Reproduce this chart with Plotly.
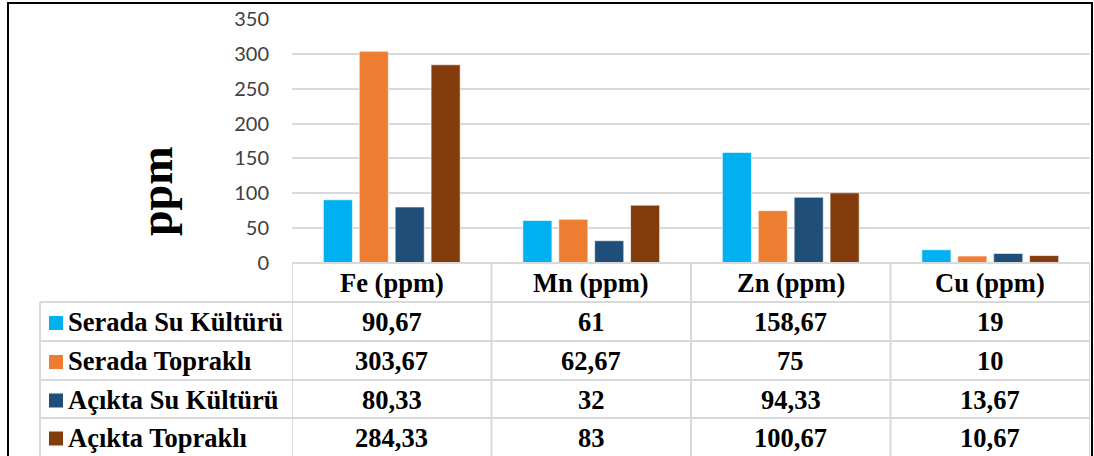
import plotly.graph_objects as go

# Data
categories = ["Fe (ppm)", "Mn (ppm)", "Zn (ppm)", "Cu (ppm)"]
series_names = ["Serada Su Kültürü", "Serada Topraklı", "Açıkta Su Kültürü", "Açıkta Topraklı"]
serada_su = [90.67, 61, 158.67, 19]
serada_toprak = [303.67, 62.67, 75, 10]
acikta_su = [80.33, 32, 94.33, 13.67]
acikta_toprak = [284.33, 83, 100.67, 10.67]
y_ticks = [0, 50, 100, 150, 200, 250, 300, 350]

series_values = [serada_su, serada_toprak, acikta_su, acikta_toprak]
colors = ["#00B0F0", "#ED7D31", "#1F4E79", "#843C0C"]

W, H = 1094, 456
PL, PR, PT, PB = 292, 1090, 19, 263  # plot area in pixels
SERIF = "Liberation Serif, Times New Roman, serif"
GRID = "#D9D9D9"
CELL_FONT = dict(family=SERIF, size=26.5, color="black")


def px(x):
    return (x - PL) / (PR - PL)


def py(y):
    return (PB - y) / (PB - PT)


def fmt(v):
    return ("%g" % v).replace(".", ",")


fig = go.Figure()
for name, vals, c in zip(series_names, series_values, colors):
    fig.add_trace(go.Bar(
        x=categories, y=vals, name=name,
        marker=dict(color=c, line=dict(color="rgba(255,255,255,0.6)", width=1)),
        showlegend=False,
    ))

shapes = []
annotations = []

# outer frame
shapes.append(dict(type="rect", xref="paper", yref="paper",
                   x0=px(8), x1=px(1092), y0=py(3), y1=py(475),
                   line=dict(color="black", width=2)))

# table row lines
row_edges = [302, 341, 380, 418]
shapes.append(dict(type="line", xref="paper", yref="paper",
                   x0=px(PL), x1=px(PR), y0=py(PB), y1=py(PB),
                   line=dict(color=GRID, width=2)))
for ry in row_edges:
    shapes.append(dict(type="line", xref="paper", yref="paper",
                       x0=px(40), x1=px(PR), y0=py(ry), y1=py(ry),
                       line=dict(color=GRID, width=2)))
# table column lines
shapes.append(dict(type="line", xref="paper", yref="paper",
                   x0=px(40), x1=px(40), y0=py(302), y1=py(470),
                   line=dict(color=GRID, width=2)))
for cx in [-0.5, 0.5, 1.5, 2.5, 3.5]:
    shapes.append(dict(type="line", xref="x", yref="paper",
                       x0=cx, x1=cx, y0=py(PB), y1=py(470),
                       line=dict(color=GRID, width=2)))

# header row: category names
for cat in categories:
    annotations.append(dict(x=cat, y=py(283), xref="x", yref="paper",
                            text=f"<b>{cat}</b>", showarrow=False,
                            xanchor="center", yanchor="middle", font=CELL_FONT))

# body rows
row_centers = [322, 361, 399.5, 437.5]
for name, vals, c, rc in zip(series_names, series_values, colors, row_centers):
    shapes.append(dict(type="rect", xref="paper", yref="paper",
                       x0=px(49), x1=px(63), y0=py(rc - 6), y1=py(rc + 8),
                       line=dict(width=0), fillcolor=c))
    annotations.append(dict(x=px(66), y=py(rc), xref="paper", yref="paper",
                            text=f"<b>{name}</b>", showarrow=False,
                            xanchor="left", yanchor="middle", font=CELL_FONT))
    for cat, v in zip(categories, vals):
        annotations.append(dict(x=cat, y=py(rc), xref="x", yref="paper",
                                text=f"<b>{fmt(v)}</b>", showarrow=False,
                                xanchor="center", yanchor="middle", font=CELL_FONT))

# y axis title
annotations.append(dict(x=px(156), y=py(192), xref="paper", yref="paper",
                        text="<b>ppm</b>", showarrow=False, textangle=-90,
                        xanchor="center", yanchor="middle",
                        font=dict(family=SERIF, size=46, color="black")))

fig.update_layout(
    width=W, height=H,
    margin=dict(l=PL, r=W - PR, t=PT, b=H - PB),
    barmode="group", bargap=0.28, bargroupgap=0.19,
    plot_bgcolor="white", paper_bgcolor="white",
    shapes=shapes, annotations=annotations,
    xaxis=dict(showticklabels=False, showgrid=False, zeroline=False,
               ticks="", range=[-0.5, 3.5]),
    yaxis=dict(range=[0, 350], tickvals=y_ticks, showgrid=True,
               gridcolor=GRID, gridwidth=2, zeroline=False, ticks="",
               ticklabelstandoff=22,
               tickfont=dict(family="Lato, Open Sans, sans-serif", size=20,
                             color="#404040")),
)

# drop the default page margin so the figure sits at the window's corner
fig.write_html("out.html", config={"displayModeBar": False},
               post_script="document.body.style.margin='0px';")
